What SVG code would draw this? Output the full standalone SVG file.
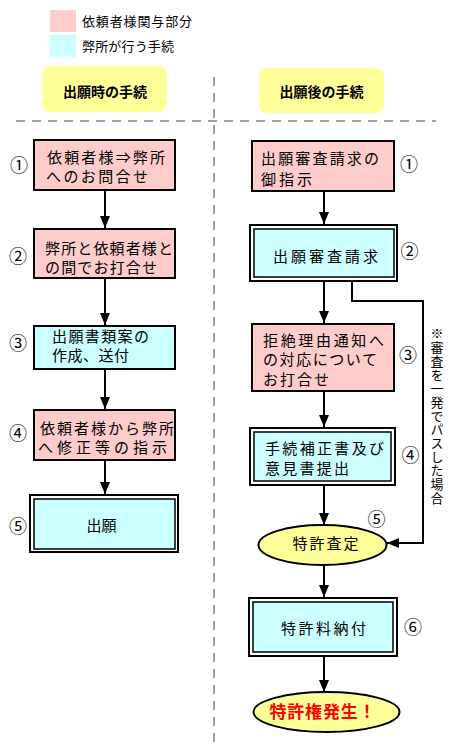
<svg xmlns="http://www.w3.org/2000/svg" width="456" height="742" viewBox="0 0 456 742">
<defs>
<style>
.t{font-family:"Noto Sans CJK JP","Noto Sans",sans-serif;font-size:15px;fill:#000}
.n{font-family:"Noto Sans CJK JP","Noto Sans",sans-serif;font-size:18px;fill:#000;text-anchor:middle}
.lg{font-family:"Noto Sans CJK JP","Noto Sans",sans-serif;font-size:13px;fill:#000}
.hd{font-family:"Noto Sans CJK JP","Noto Sans",sans-serif;font-size:14px;font-weight:bold;fill:#000;text-anchor:middle}
.pink{fill:#ffcccc;stroke:#000;stroke-width:2}
.cyan{fill:#ccffff;stroke:#000;stroke-width:2}
.outer{fill:#fff;stroke:#000;stroke-width:2}
.inner{fill:#ccffff;stroke:#000;stroke-width:1.5}
.ell{fill:#ffff99;stroke:#000;stroke-width:2}
.title{fill:#ffff99}
.dash{stroke:#a0a0a0;stroke-width:2;stroke-dasharray:9 7;fill:none}
.con{stroke:#000;stroke-width:2;fill:none;marker-end:url(#ah)}
</style>
<marker id="ah" markerUnits="userSpaceOnUse" markerWidth="12" markerHeight="10" refX="12" refY="5" orient="auto">
<path d="M0,0 L12,5 L0,10 z" fill="#000"/>
</marker>
</defs>
<rect width="456" height="742" fill="#fff"/>

<g id="legend">
<rect x="50" y="10" width="26" height="22" fill="#ffcccc"/>
<text class="lg" x="82" y="26" textLength="110">依頼者様関与部分</text>
<rect x="50" y="35" width="26" height="22" fill="#ccffff"/>
<text class="lg" x="82" y="51" textLength="92">弊所が行う手続</text>
</g>

<g id="dividers">
<line class="dash" x1="214" y1="77" x2="214" y2="742"/>
<line class="dash" x1="16" y1="121" x2="436" y2="121"/>
</g>

<g id="title-left">
<rect class="title" x="42" y="66" width="125" height="46" rx="8"/>
<text class="hd" x="105" y="97">出願時の手続</text>
</g>
<g id="title-right">
<rect class="title" x="259" y="68" width="125" height="45" rx="8"/>
<text class="hd" x="321.5" y="97">出願後の手続</text>
</g>

<g id="connectors">
<line class="con" x1="105" y1="191" x2="105" y2="228"/>
<line class="con" x1="105" y1="279" x2="105" y2="325"/>
<line class="con" x1="105" y1="370" x2="105" y2="409"/>
<line class="con" x1="105" y1="461" x2="105" y2="494"/>
<line class="con" x1="324" y1="192" x2="324" y2="224"/>
<line class="con" x1="324" y1="282" x2="324" y2="323"/>
<line class="con" x1="324" y1="392" x2="324" y2="427"/>
<line class="con" x1="324" y1="486" x2="324" y2="525"/>
<line class="con" x1="324" y1="565" x2="324" y2="597"/>
<line class="con" x1="324" y1="657" x2="324" y2="692"/>
<polyline class="con" points="352,282 352,301 423,301 423,543 387,543"/>
</g>

<g id="L1">
<rect class="pink" x="34" y="140" width="141" height="50"/>
<text class="t" x="47" y="162.5" textLength="118">依頼者様⇒弊所</text>
<text class="t" x="46" y="181.5" textLength="102">へのお問合せ</text>
<text class="n" x="19" y="171.5">①</text>
</g>
<g id="L2">
<rect class="pink" x="34" y="229" width="141" height="49"/>
<text class="t" x="45" y="253.5" textLength="128">弊所と依頼者様と</text>
<text class="t" x="45" y="272.5" textLength="112">の間でお打合せ</text>
<text class="n" x="18" y="263">②</text>
</g>
<g id="L3">
<rect class="cyan" x="34" y="326" width="141" height="43"/>
<text class="t" x="52" y="342" textLength="97">出願書類案の</text>
<text class="t" x="52" y="361" textLength="77">作成、送付</text>
<text class="n" x="18" y="350">③</text>
</g>
<g id="L4">
<rect class="pink" x="34" y="410" width="141" height="50"/>
<text class="t" x="40" y="434" textLength="134">依頼者様から弊所</text>
<text class="t" x="38" y="453" textLength="129">へ修正等の指示</text>
<text class="n" x="18" y="440">④</text>
</g>
<g id="L5">
<rect class="outer" x="30" y="495" width="148" height="57"/>
<rect class="inner" x="34" y="499" width="141" height="50"/>
<text class="t" x="101.5" y="531" text-anchor="middle">出願</text>
<text class="n" x="18" y="533">⑤</text>
</g>

<g id="R1">
<rect class="pink" x="252" y="141" width="142" height="50"/>
<text class="t" x="261" y="164" textLength="118">出願審査請求の</text>
<text class="t" x="261" y="185" textLength="51">御指示</text>
<text class="n" x="409" y="170.5">①</text>
</g>
<g id="R2">
<rect class="outer" x="250" y="225" width="147" height="56"/>
<rect class="inner" x="254" y="229" width="140" height="48"/>
<text class="t" x="273" y="261.5" textLength="105">出願審査請求</text>
<text class="n" x="409.5" y="257.5">②</text>
</g>
<g id="R3">
<rect class="pink" x="252" y="324" width="142" height="67"/>
<text class="t" x="263" y="345.5" textLength="121">拒絶理由通知へ</text>
<text class="t" x="263" y="365" textLength="114">の対応について</text>
<text class="t" x="263" y="384.5" textLength="66">お打合せ</text>
<text class="n" x="408" y="361.5">③</text>
</g>
<g id="R4">
<rect class="outer" x="250" y="428" width="145" height="57"/>
<rect class="inner" x="254" y="432" width="137" height="49"/>
<text class="t" x="265" y="454" textLength="119">手続補正書及び</text>
<text class="t" x="265" y="474" textLength="84">意見書提出</text>
<text class="n" x="410.5" y="461.5">④</text>
</g>
<g id="R5">
<ellipse class="ell" cx="322.5" cy="545" rx="64" ry="20"/>
<text class="t" x="325.5" y="549" text-anchor="middle" textLength="66">特許査定</text>
<text class="n" x="376.5" y="526">⑤</text>
</g>
<g id="R6">
<rect class="outer" x="249" y="598" width="148" height="58"/>
<rect class="inner" x="253" y="602" width="140" height="50"/>
<text class="t" x="281" y="634" textLength="85">特許料納付</text>
<text class="n" x="413" y="634">⑥</text>
</g>
<g id="R7">
<ellipse class="ell" cx="326.5" cy="712" rx="73" ry="20"/>
<text x="322.5" y="718" text-anchor="middle" textLength="106" style="font-family:'Noto Sans CJK JP','Noto Sans',sans-serif;font-size:17px;font-weight:bold;fill:#ff0000">特許権発生！</text>
</g>

<g id="bypass-label">
<text x="437" y="327" style="font-family:'Noto Sans CJK JP','Noto Sans',sans-serif;font-size:13px;fill:#000;writing-mode:vertical-rl;letter-spacing:0.7px">※審査を一発でパスした場合</text>
</g>
</svg>
